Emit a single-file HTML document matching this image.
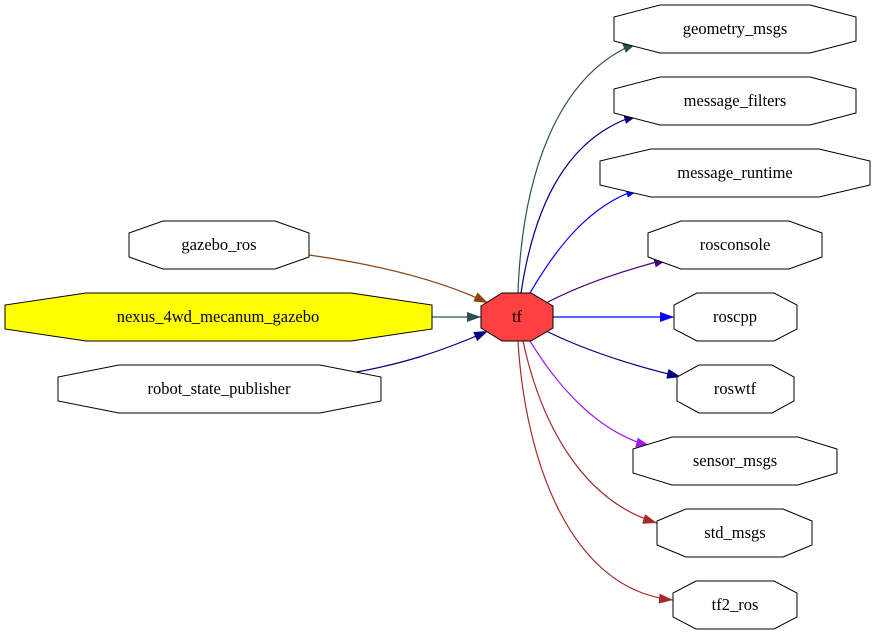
<!DOCTYPE html>
<html><head><meta charset="utf-8"><style>html,body{margin:0;padding:0;background:#fff}svg{display:block}</style></head>
<body>
<svg width="875" height="635" viewBox="0 0 875 635" xmlns="http://www.w3.org/2000/svg" font-family="'Liberation Serif', serif" font-size="16.5">
<defs>
<marker id="dsg" markerUnits="userSpaceOnUse" markerWidth="14" markerHeight="10" refX="14" refY="5" orient="auto"><path d="M0,0 L14,5 L0,10 z" fill="#2f4f4f"/></marker>
<marker id="nav" markerUnits="userSpaceOnUse" markerWidth="14" markerHeight="10" refX="14" refY="5" orient="auto"><path d="M0,0 L14,5 L0,10 z" fill="#000080"/></marker>
<marker id="blu" markerUnits="userSpaceOnUse" markerWidth="14" markerHeight="10" refX="14" refY="5" orient="auto"><path d="M0,0 L14,5 L0,10 z" fill="#0000ff"/></marker>
<marker id="ind" markerUnits="userSpaceOnUse" markerWidth="14" markerHeight="10" refX="14" refY="5" orient="auto"><path d="M0,0 L14,5 L0,10 z" fill="#4b0082"/></marker>
<marker id="pur" markerUnits="userSpaceOnUse" markerWidth="14" markerHeight="10" refX="14" refY="5" orient="auto"><path d="M0,0 L14,5 L0,10 z" fill="#a020f0"/></marker>
<marker id="brn" markerUnits="userSpaceOnUse" markerWidth="14" markerHeight="10" refX="14" refY="5" orient="auto"><path d="M0,0 L14,5 L0,10 z" fill="#a52a2a"/></marker>
<marker id="sie" markerUnits="userSpaceOnUse" markerWidth="14" markerHeight="10" refX="14" refY="5" orient="auto"><path d="M0,0 L14,5 L0,10 z" fill="#8b4513"/></marker>
</defs>
<g fill="none" stroke-width="1.2">
<path d="M518,293 C522,180 555,75 637,43" stroke="#2f4f4f" marker-end="url(#dsg)"/>
<path d="M521,293 C535,200 570,135 638,115" stroke="#000080" marker-end="url(#nav)"/>
<path d="M530,293 C555,250 590,203 640,189" stroke="#0000ff" marker-end="url(#blu)"/>
<path d="M546,303 C580,285 625,270 668,259" stroke="#4b0082" marker-end="url(#ind)"/>
<path d="M553,317 L674,317" stroke="#0000ff" marker-end="url(#blu)"/>
<path d="M546,331 C585,350 630,365 681,377" stroke="#000080" marker-end="url(#nav)"/>
<path d="M530,341 C560,390 600,433 650,446" stroke="#a020f0" marker-end="url(#pur)"/>
<path d="M523,341 C540,420 580,500 657,523" stroke="#a52a2a" marker-end="url(#brn)"/>
<path d="M518,341 C525,460 570,590 673,600" stroke="#a52a2a" marker-end="url(#brn)"/>
<path d="M309,255 C380,265 440,280 488,303" stroke="#8b4513" marker-end="url(#sie)"/>
<path d="M432,317 L481,317" stroke="#2f4f4f" marker-end="url(#dsg)"/>
<path d="M345,374 C400,365 440,352 488,331" stroke="#000080" marker-end="url(#nav)"/>
</g>
<g stroke="#000" stroke-width="1">
<polygon points="660,5 810,5 856,17 856,41 810,53 660,53 614,41 614,17" fill="#fff"/>
<polygon points="660,77 810,77 856,89 856,113 810,125 660,125 614,113 614,89" fill="#fff"/>
<polygon points="651,149 819,149 870,161 870,185 819,197 651,197 600,185 600,161" fill="#fff"/>
<polygon points="681,221 789,221 822,233 822,257 789,269 681,269 648,257 648,233" fill="#fff"/>
<polygon points="697,293 774,293 797,305 797,329 774,341 697,341 674,329 674,305" fill="#fff"/>
<polygon points="699,365 772,365 794,377 794,401 772,413 699,413 677,401 677,377" fill="#fff"/>
<polygon points="672,437 798,437 837,449 837,473 798,485 672,485 633,473 633,449" fill="#fff"/>
<polygon points="686,509 783,509 812,521 812,545 783,557 686,557 657,545 657,521" fill="#fff"/>
<polygon points="696,581 774,581 797,593 797,617 774,629 696,629 673,617 673,593" fill="#fff"/>
<polygon points="163,221 275,221 309,233 309,257 275,269 163,269 129,257 129,233" fill="#fff"/>
<polygon points="86,293 351,293 432,305 432,329 351,341 86,341 5,329 5,305" fill="#ffff00"/>
<polygon points="119,365 320,365 381,377 381,401 320,413 119,413 58,401 58,377" fill="#fff"/>
<polygon points="502,293 531,293 553,306 553,328 531,341 502,341 481,328 481,306" fill="#ff4040"/>
</g>
<g text-anchor="middle" fill="#000">
<text x="735" y="34">geometry_msgs</text>
<text x="735" y="106">message_filters</text>
<text x="735" y="178">message_runtime</text>
<text x="735" y="250">rosconsole</text>
<text x="735" y="322">roscpp</text>
<text x="735" y="394">roswtf</text>
<text x="735" y="466">sensor_msgs</text>
<text x="735" y="538">std_msgs</text>
<text x="735" y="610">tf2_ros</text>
<text x="219" y="250">gazebo_ros</text>
<text x="218" y="322">nexus_4wd_mecanum_gazebo</text>
<text x="219" y="394">robot_state_publisher</text>
<text x="517" y="322">tf</text>
</g>
</svg>
</body></html>
